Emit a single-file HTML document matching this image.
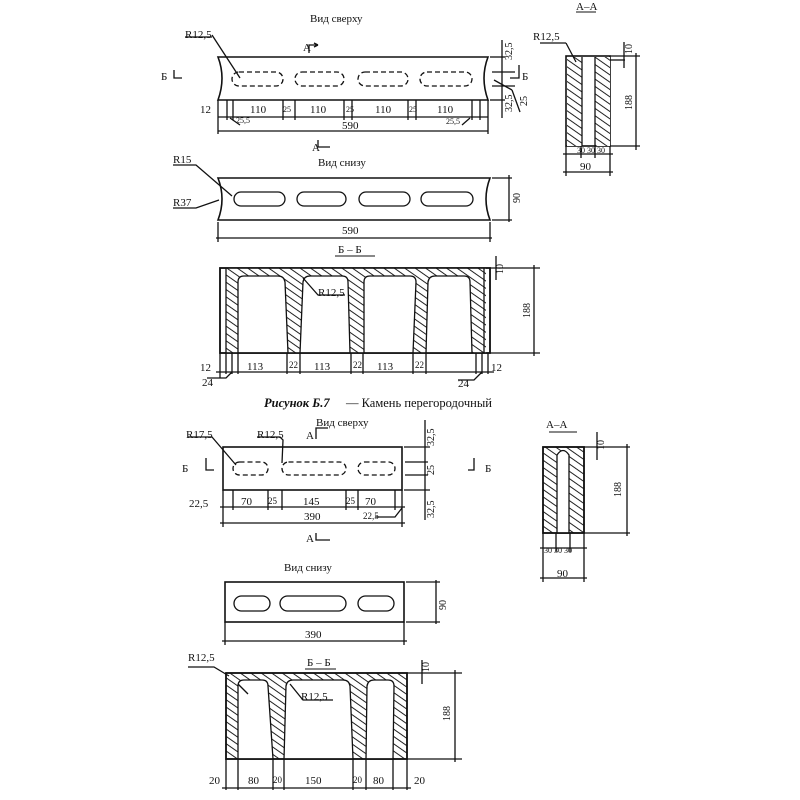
<!DOCTYPE html>
<html><head><meta charset="utf-8"><style>
html,body{margin:0;padding:0;background:#fff}
svg{display:block}
text{font-family:"Liberation Serif","DejaVu Serif",serif;fill:#111}
</style></head><body>
<svg width="800" height="800" viewBox="0 0 800 800" xmlns="http://www.w3.org/2000/svg">
<defs>
<pattern id="h" patternUnits="userSpaceOnUse" width="6" height="6" patternTransform="rotate(-55)">
<rect width="6" height="6" fill="#fff"/><line x1="0" y1="0" x2="0" y2="6" stroke="#222" stroke-width="2"/>
</pattern>
</defs>
<g stroke="#111" fill="none" stroke-width="1.3">
<!-- ===== FIG 1 top view ===== -->
<path d="M218 57 H488 Q480 78 488 100 H218 Q226 78 218 57 Z" stroke-width="1.6"/>
<g stroke-dasharray="5 3">
<rect x="232" y="72" width="51" height="14" rx="7"/>
<rect x="295" y="72" width="49" height="14" rx="7"/>
<rect x="358" y="72" width="50" height="14" rx="7"/>
<rect x="420" y="72" width="52" height="14" rx="7"/>
</g>
<line x1="218" y1="117" x2="488" y2="117"/>
<line x1="218" y1="131" x2="488" y2="131"/>
<line x1="218" y1="100" x2="218" y2="134"/><line x1="488" y1="100" x2="488" y2="134"/>
<line x1="227" y1="100" x2="227" y2="120"/><line x1="233" y1="100" x2="233" y2="120"/>
<line x1="283" y1="100" x2="283" y2="120"/><line x1="295" y1="100" x2="295" y2="120"/>
<line x1="344" y1="100" x2="344" y2="120"/><line x1="352" y1="100" x2="352" y2="120"/>
<line x1="408" y1="100" x2="408" y2="120"/><line x1="416" y1="100" x2="416" y2="120"/>
<line x1="472" y1="100" x2="472" y2="120"/><line x1="480" y1="100" x2="480" y2="120"/>
<line x1="230" y1="118" x2="240" y2="125"/><line x1="470" y1="118" x2="462" y2="125"/>
<line x1="490" y1="57" x2="505" y2="57"/><line x1="490" y1="100" x2="505" y2="100"/>
<line x1="502" y1="40" x2="502" y2="118"/>
<line x1="492" y1="72" x2="515" y2="72"/><line x1="492" y1="86" x2="515" y2="86"/>
<line x1="494" y1="80" x2="512" y2="90"/><line x1="512" y1="90" x2="520" y2="112"/>
<path d="M212 35 L240 78"/><path d="M185 37 H212"/>
<path d="M309 53 V45 H318"/><path d="M318 45 L314 43 M318 45 L314 47"/>
<path d="M174 70 V78 H182"/><path d="M519 65 V78 H510"/>
<path d="M318 140 V147 H330"/>
<!-- A-A fig1 -->
<rect x="566" y="56" width="44" height="90" stroke-width="1.6"/>
<rect x="567" y="57" width="15" height="89" fill="url(#h)" stroke="none"/>
<rect x="595" y="57" width="15" height="89" fill="url(#h)" stroke="none"/>
<line x1="582" y1="57" x2="582" y2="146"/><line x1="595" y1="57" x2="595" y2="146"/>
<line x1="566" y1="146" x2="566" y2="176"/><line x1="610" y1="146" x2="610" y2="176"/>
<line x1="581" y1="146" x2="581" y2="158"/><line x1="595" y1="146" x2="595" y2="158"/>
<line x1="563" y1="154" x2="613" y2="154"/><line x1="563" y1="172" x2="613" y2="172"/>
<line x1="610" y1="56" x2="640" y2="56"/><line x1="610" y1="146" x2="640" y2="146"/>
<line x1="636" y1="53" x2="636" y2="150"/>
<line x1="610" y1="60" x2="625" y2="60"/><line x1="624" y1="42" x2="624" y2="68"/>
<line x1="576" y1="62" x2="566" y2="43"/><line x1="566" y1="43" x2="540" y2="43"/>
<line x1="576" y1="12" x2="596" y2="12" stroke-width="1"/>
<!-- bottom view fig1 -->
<path d="M218 178 H490 Q482 199 490 220 H218 Q226 199 218 178 Z" stroke-width="1.6"/>
<rect x="234" y="192" width="51" height="14" rx="7"/>
<rect x="297" y="192" width="49" height="14" rx="7"/>
<rect x="359" y="192" width="51" height="14" rx="7"/>
<rect x="421" y="192" width="52" height="14" rx="7"/>
<line x1="218" y1="222" x2="218" y2="242"/><line x1="490" y1="222" x2="490" y2="242"/>
<line x1="216" y1="238" x2="492" y2="238"/>
<line x1="492" y1="178" x2="512" y2="178"/><line x1="492" y1="220" x2="512" y2="220"/>
<line x1="509" y1="175" x2="509" y2="222"/>
<path d="M173 165 H196 L232 196"/><path d="M173 208 H196 L219 200"/>
<!-- Б-Б fig1 -->
<rect x="220" y="268" width="270" height="85" stroke-width="1.6"/>
<rect x="226" y="268" width="260" height="85" fill="url(#h)" stroke="none"/>
<path d="M238 353 V282 Q238 276 244 276 H278 Q284 276 285 282 L288 353 Z" fill="#fff"/>
<path d="M300 353 L303 282 Q304 276 310 276 H342 Q348 276 348 282 L350 353 Z" fill="#fff"/>
<path d="M364 353 V282 Q364 276 370 276 H410 Q416 276 416 282 L413 353 Z" fill="#fff"/>
<path d="M426 353 L428 282 Q429 276 435 276 H464 Q470 276 470 282 L472 353 Z" fill="#fff"/>
<rect x="220" y="268" width="270" height="85" stroke-width="1.6"/>
<line x1="226" y1="268" x2="226" y2="353"/><line x1="484" y1="268" x2="484" y2="353"/>
<line x1="220" y1="353" x2="220" y2="378"/><line x1="226" y1="353" x2="226" y2="374"/><line x1="232" y1="353" x2="232" y2="374"/><line x1="238" y1="353" x2="238" y2="374"/>
<line x1="287" y1="353" x2="287" y2="374"/><line x1="300" y1="353" x2="300" y2="374"/>
<line x1="351" y1="353" x2="351" y2="374"/><line x1="363" y1="353" x2="363" y2="374"/>
<line x1="413" y1="353" x2="413" y2="374"/><line x1="426" y1="353" x2="426" y2="374"/>
<line x1="476" y1="353" x2="476" y2="374"/><line x1="482" y1="353" x2="482" y2="374"/><line x1="488" y1="353" x2="488" y2="374"/>
<line x1="216" y1="372" x2="494" y2="372"/>
<path d="M207 378 H226 L232 372"/><path d="M458 380 H474 L482 372"/>
<line x1="490" y1="268" x2="540" y2="268"/><line x1="490" y1="353" x2="540" y2="353"/>
<line x1="534" y1="265" x2="534" y2="356"/>
<line x1="496" y1="256" x2="496" y2="280"/>
<path d="M303 278 L318 295 H345"/>
<line x1="335" y1="256" x2="375" y2="256" stroke-width="1"/>
<!-- ===== FIG 2 top view ===== -->
<rect x="223" y="447" width="179" height="43" stroke-width="1.6"/>
<g stroke-dasharray="5 3">
<rect x="233" y="462" width="35" height="13" rx="6.5"/>
<rect x="282" y="462" width="64" height="13" rx="6.5"/>
<rect x="358" y="462" width="37" height="13" rx="6.5"/>
</g>
<line x1="223" y1="490" x2="223" y2="527"/><line x1="402" y1="490" x2="402" y2="527"/>
<line x1="233" y1="490" x2="233" y2="510"/><line x1="268" y1="490" x2="268" y2="510"/><line x1="282" y1="490" x2="282" y2="510"/>
<line x1="346" y1="490" x2="346" y2="510"/><line x1="358" y1="490" x2="358" y2="510"/><line x1="395" y1="490" x2="395" y2="510"/>
<line x1="220" y1="507" x2="405" y2="507"/><line x1="220" y1="523" x2="405" y2="523"/>
<path d="M375 517 H395 L402 508"/>
<line x1="404" y1="447" x2="430" y2="447"/><line x1="404" y1="490" x2="430" y2="490"/>
<line x1="405" y1="462" x2="428" y2="462"/><line x1="405" y1="475" x2="428" y2="475"/>
<line x1="425" y1="420" x2="425" y2="520"/>
<path d="M188 437 H212 L236 465"/><path d="M257 437 H280 L283 440 L282 463"/>
<path d="M316 439 V428 H328"/><path d="M206 458 V470 H214"/><path d="M474 458 V470 H468"/>
<path d="M316 533 V540 H330"/>
<!-- A-A fig2 -->
<rect x="543" y="447" width="41" height="86" fill="url(#h)" stroke-width="1.6"/>
<path d="M557 533 V455 Q563 446 569 455 V533 Z" fill="#fff"/>
<rect x="543" y="447" width="41" height="86" stroke-width="1.6"/>
<line x1="543" y1="533" x2="543" y2="582"/><line x1="584" y1="533" x2="584" y2="582"/>
<line x1="556" y1="533" x2="556" y2="552"/><line x1="570" y1="533" x2="570" y2="552"/>
<line x1="540" y1="548" x2="587" y2="548"/><line x1="540" y1="578" x2="587" y2="578"/>
<line x1="584" y1="447" x2="630" y2="447"/><line x1="584" y1="533" x2="630" y2="533"/>
<line x1="627" y1="444" x2="627" y2="536"/>
<line x1="597" y1="432" x2="597" y2="460"/>
<line x1="549" y1="432" x2="577" y2="432" stroke-width="1"/>
<!-- bottom view fig2 -->
<rect x="225" y="582" width="179" height="40" stroke-width="1.6"/>
<rect x="234" y="596" width="36" height="15" rx="7.5"/>
<rect x="280" y="596" width="66" height="15" rx="7.5"/>
<rect x="358" y="596" width="36" height="15" rx="7.5"/>
<line x1="225" y1="622" x2="225" y2="645"/><line x1="404" y1="622" x2="404" y2="645"/>
<line x1="222" y1="641" x2="407" y2="641"/>
<line x1="406" y1="582" x2="440" y2="582"/><line x1="406" y1="622" x2="440" y2="622"/>
<line x1="436" y1="580" x2="436" y2="624"/>
<!-- Б-Б fig2 -->
<rect x="226" y="673" width="181" height="86" fill="url(#h)" stroke-width="1.6"/>
<path d="M238 759 V686 Q238 680 244 680 H262 Q268 680 268 686 L273 759 Z" fill="#fff"/>
<path d="M284 759 L286 686 Q287 680 293 680 H343 Q349 680 350 686 L353 759 Z" fill="#fff"/>
<path d="M366 759 L367 686 Q368 680 374 680 H388 Q394 680 394 686 L393 759 Z" fill="#fff"/>
<rect x="226" y="673" width="181" height="86" stroke-width="1.6"/>
<line x1="226" y1="759" x2="226" y2="790"/><line x1="407" y1="759" x2="407" y2="790"/>
<line x1="238" y1="759" x2="238" y2="790"/><line x1="273" y1="759" x2="273" y2="790"/><line x1="284" y1="759" x2="284" y2="790"/>
<line x1="353" y1="759" x2="353" y2="790"/><line x1="366" y1="759" x2="366" y2="790"/><line x1="393" y1="759" x2="393" y2="790"/>
<line x1="222" y1="788" x2="411" y2="788"/>
<line x1="407" y1="673" x2="462" y2="673"/><line x1="407" y1="759" x2="462" y2="759"/>
<line x1="455" y1="670" x2="455" y2="762"/>
<line x1="422" y1="660" x2="422" y2="684"/>
<path d="M188 667 H214 L229 676"/><path d="M238 684 L248 694"/>
<path d="M290 684 L303 700 H333"/>
<line x1="305" y1="669" x2="336" y2="669" stroke-width="1"/>
</g>
<g font-size="11">
<text x="310" y="22">Вид  сверху</text>
<text x="576" y="10">А–А</text>
<text x="185" y="38">R12,5</text>
<text x="303" y="51">А</text>
<text x="533" y="40">R12,5</text>
<text x="161" y="80">Б</text><text x="522" y="80">Б</text>
<text x="200" y="113">12</text>
<text x="250" y="113">110</text><text x="283" y="112" font-size="8">25</text>
<text x="310" y="113">110</text><text x="346" y="112" font-size="8">25</text>
<text x="375" y="113">110</text><text x="409" y="112" font-size="8">25</text>
<text x="437" y="113">110</text>
<text x="236" y="123" font-size="8">25,5</text><text x="446" y="124" font-size="8">25,5</text>
<text x="342" y="129">590</text>
<text x="312" y="151">А</text>
<text x="318" y="166">Вид  снизу</text>
<text x="173" y="163">R15</text><text x="173" y="206">R37</text>
<text x="342" y="234">590</text>
<text x="338" y="253">Б – Б</text>
<text x="318" y="296">R12,5</text>
<text x="200" y="371">12</text><text x="202" y="386">24</text>
<text x="247" y="370">113</text><text x="289" y="368" font-size="9">22</text>
<text x="314" y="370">113</text><text x="353" y="368" font-size="9">22</text>
<text x="377" y="370">113</text><text x="415" y="368" font-size="9">22</text>
<text x="491" y="371">12</text><text x="458" y="387">24</text>
<text x="577" y="153" font-size="8">30 30 30</text>
<text x="580" y="170">90</text>
<text x="264" y="407" font-weight="bold" font-style="italic" font-size="12.5">Рисунок Б.7</text>
<text x="346" y="407" font-size="12.5">— Камень перегородочный</text>
<text x="186" y="438">R17,5</text><text x="257" y="438">R12,5</text>
<text x="306" y="439">А</text>
<text x="316" y="426">Вид  сверху</text>
<text x="182" y="472">Б</text><text x="485" y="472">Б</text>
<text x="546" y="428">А–А</text>
<text x="189" y="507">22,5</text>
<text x="241" y="505">70</text><text x="268" y="504" font-size="9">25</text>
<text x="303" y="505">145</text><text x="346" y="504" font-size="9">25</text>
<text x="365" y="505">70</text>
<text x="363" y="519" font-size="9">22,5</text>
<text x="304" y="520">390</text>
<text x="306" y="542">А</text>
<text x="284" y="571">Вид  снизу</text>
<text x="305" y="638">390</text>
<text x="544" y="553" font-size="8">30 30 30</text>
<text x="557" y="577">90</text>
<text x="188" y="661">R12,5</text>
<text x="307" y="666">Б – Б</text>
<text x="301" y="700">R12,5</text>
<text x="209" y="784">20</text><text x="248" y="784">80</text><text x="273" y="783" font-size="9">20</text>
<text x="305" y="784">150</text><text x="353" y="783" font-size="9">20</text><text x="373" y="784">80</text>
<text x="414" y="784">20</text>
</g>
<g font-size="10">
<text transform="translate(512,60) rotate(-90)">32,5</text>
<text transform="translate(512,112) rotate(-90)">32,5</text>
<text transform="translate(527,106) rotate(-90)">25</text>
<text transform="translate(520,203) rotate(-90)">90</text>
<text transform="translate(632,54) rotate(-90)">10</text>
<text transform="translate(632,110) rotate(-90)">188</text>
<text transform="translate(503,274) rotate(-90)">10</text>
<text transform="translate(530,318) rotate(-90)">188</text>
<text transform="translate(434,446) rotate(-90)">32,5</text>
<text transform="translate(434,475) rotate(-90)">25</text>
<text transform="translate(434,518) rotate(-90)">32,5</text>
<text transform="translate(604,450) rotate(-90)">10</text>
<text transform="translate(621,497) rotate(-90)">188</text>
<text transform="translate(446,610) rotate(-90)">90</text>
<text transform="translate(429,672) rotate(-90)">10</text>
<text transform="translate(450,721) rotate(-90)">188</text>
</g>
</svg>
</body></html>
